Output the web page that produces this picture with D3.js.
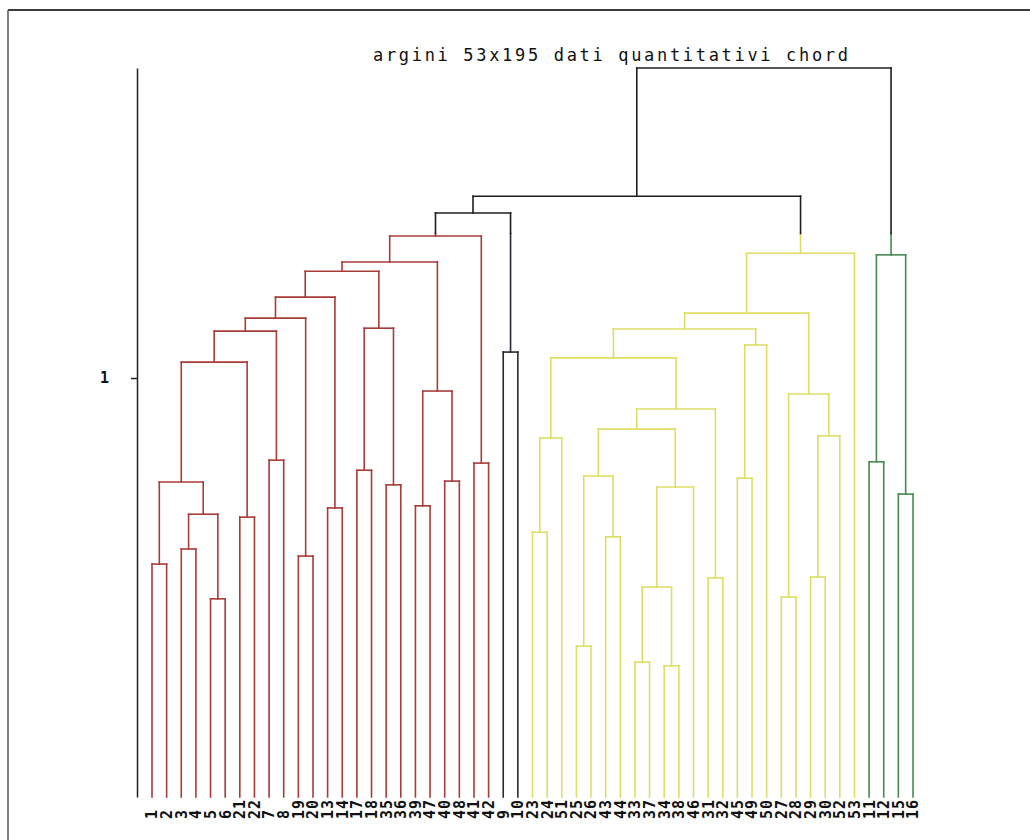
<!DOCTYPE html>
<html>
<head>
<meta charset="utf-8">
<script src="https://d3js.org/d3.v7.min.js"></script>
<style>
  body { margin: 0; background: #fff; }
  svg { display: block; }
  .leaf { font-family: "DejaVu Sans Mono", monospace; font-weight: bold; font-size: 15px; letter-spacing: 1px; fill: #111; }
  .title { font-family: "DejaVu Sans Mono", monospace; font-size: 17px; fill: #111; }
  .yaxis text { font-family: "DejaVu Sans Mono", monospace; font-weight: bold; font-size: 15px; fill: #111; }
</style>
</head>
<body>
<div id="vis"></div>
<script>

var title = 'argini 53x195 dati quantitativi chord';

// leaf order along the bottom
var leaves = ['1', '2', '3', '4', '5', '6', '21', '22', '7', '8', '19', '20', '13', '14', '17', '18',
	'35', '36', '39', '47', '40', '48', '41', '42', '9', '10', '23', '24', '51', '25', '26', '43',
	'44', '33', '37', '34', '38', '46', '31', '32', '45', '49', '50', '27', '28', '29', '30', '52',
	'53', '11', '12', '15', '16'];

// linkage: [left, right, height]; 'mK' is the K-th row
var linkage = [
	['1', '2', 0.556], ['3', '4', 0.592], ['5', '6', 0.473], ['m1', 'm2', 0.675],
	['m0', 'm3', 0.752], ['21', '22', 0.668], ['m4', 'm5', 1.038], ['7', '8', 0.804],
	['m6', 'm7', 1.112], ['19', '20', 0.575], ['m8', 'm9', 1.143], ['13', '14', 0.690],
	['m10', 'm11', 1.193], ['17', '18', 0.780], ['35', '36', 0.745], ['m13', 'm14', 1.119],
	['m12', 'm15', 1.255], ['39', '47', 0.695], ['40', '48', 0.754], ['m17', 'm18', 0.969],
	['m16', 'm19', 1.277], ['41', '42', 0.797], ['m20', 'm21', 1.339], ['9', '10', 1.062],
	['m22', 'm23', 1.394],
	['23', '24', 0.632], ['m25', '51', 0.857], ['25', '26', 0.360], ['43', '44', 0.621],
	['m27', 'm28', 0.766], ['33', '37', 0.322], ['34', '38', 0.313], ['m30', 'm31', 0.501],
	['m32', '46', 0.740], ['m29', 'm33', 0.878], ['31', '32', 0.523], ['m34', 'm35', 0.926],
	['m26', 'm36', 1.048], ['45', '49', 0.761], ['m38', '50', 1.079], ['m37', 'm39', 1.117],
	['27', '28', 0.477], ['29', '30', 0.525], ['m42', '52', 0.862], ['m41', 'm43', 0.962],
	['m40', 'm44', 1.155], ['m45', '53', 1.298],
	['11', '12', 0.800], ['15', '16', 0.723], ['m47', 'm48', 1.294],
	['m24', 'm46', 1.434], ['m50', 'm49', 1.740]
];

var cutHeight = 1.345;
var yTicks = [1];
var clusterColors = ['#a83c38', '#252a36', '#dede66', '#468a52'];
var aboveColor = '#1e1e1e';

var svg = d3.select('#vis').append('svg')
	.attr('width', 1030)
	.attr('height', 840);

// scanned page frame
svg.append('line').attr('x1', 8).attr('x2', 1030).attr('y1', 10).attr('y2', 10)
	.attr('stroke', '#3a3a3a').attr('stroke-width', 2);
svg.append('line').attr('x1', 8).attr('x2', 8).attr('y1', 10).attr('y2', 840)
	.attr('stroke', '#555').attr('stroke-width', 1.5);

var x = d3.scalePoint().domain(leaves).range([152, 913]);
var rootHeight = linkage[linkage.length - 1][2];
var y = d3.scaleLinear().domain([0, rootHeight]).range([797, 68]);

// build nodes from the linkage
var nodes = {};
leaves.forEach(function (id) {
	nodes[id] = { id: id, h: 0, x: x(id), kids: null };
});
linkage.forEach(function (row, i) {
	var a = nodes[row[0]], b = nodes[row[1]];
	var n = { id: 'm' + i, h: row[2], x: (a.x + b.x) / 2, kids: [a, b] };
	a.parent = n;
	b.parent = n;
	nodes[n.id] = n;
});
var root = nodes['m' + (linkage.length - 1)];

// colour clusters below the cut, left to right
var k = 0;
function paint(n, color) {
	if (color == null && n.h < cutHeight) color = clusterColors[k++ % clusterColors.length];
	n.color = color;
	if (n.kids) n.kids.forEach(function (c) { paint(c, color); });
}
paint(root, null);

var segs = [];
Object.keys(nodes).forEach(function (id) {
	var n = nodes[id];
	if (n.kids) {
		segs.push({ x1: n.kids[0].x, x2: n.kids[1].x, h1: n.h, h2: n.h, color: n.color || aboveColor });
	}
	if (n.parent) {
		var p = n.parent;
		if (n.color && p.h > cutHeight) {
			segs.push({ x1: n.x, x2: n.x, h1: n.h, h2: cutHeight, color: n.color });
			segs.push({ x1: n.x, x2: n.x, h1: cutHeight, h2: p.h, color: aboveColor });
		} else {
			segs.push({ x1: n.x, x2: n.x, h1: n.h, h2: p.h, color: n.color || aboveColor });
		}
	}
});

svg.append('g').selectAll('line')
	.data(segs)
	.enter().append('line')
	.attr('x1', function (d) { return d.x1; })
	.attr('x2', function (d) { return d.x2; })
	.attr('y1', function (d) { return y(d.h1); })
	.attr('y2', function (d) { return y(d.h2); })
	.attr('stroke', function (d) { return d.color; })
	.attr('stroke-width', 1.6)
	.attr('stroke-linecap', 'square');

// left axis
var yAxis = d3.axisLeft(y).tickValues(yTicks).tickSize(6).tickSizeOuter(0).tickPadding(22)
	.tickFormat(d3.format('d'));
var ga = svg.append('g').attr('class', 'yaxis')
	.attr('transform', 'translate(137,0)')
	.call(yAxis);
ga.select('.domain').attr('stroke', '#222').attr('stroke-width', 1.5);
ga.selectAll('.tick line').attr('stroke', '#222').attr('stroke-width', 1.5);

// leaf labels
svg.append('g').selectAll('text')
	.data(leaves)
	.enter().append('text')
	.attr('class', 'leaf')
	.attr('transform', function (d) { return 'translate(' + x(d) + ',819) rotate(-90)'; })
	.attr('dy', '0.36em')
	.attr('text-anchor', 'start')
	.text(function (d) { return d; });

svg.append('text')
	.attr('class', 'title')
	.attr('x', 373)
	.attr('y', 61)
	.attr('textLength', 475)
	.attr('lengthAdjust', 'spacing')
	.text(title);

</script>
</body>
</html>
